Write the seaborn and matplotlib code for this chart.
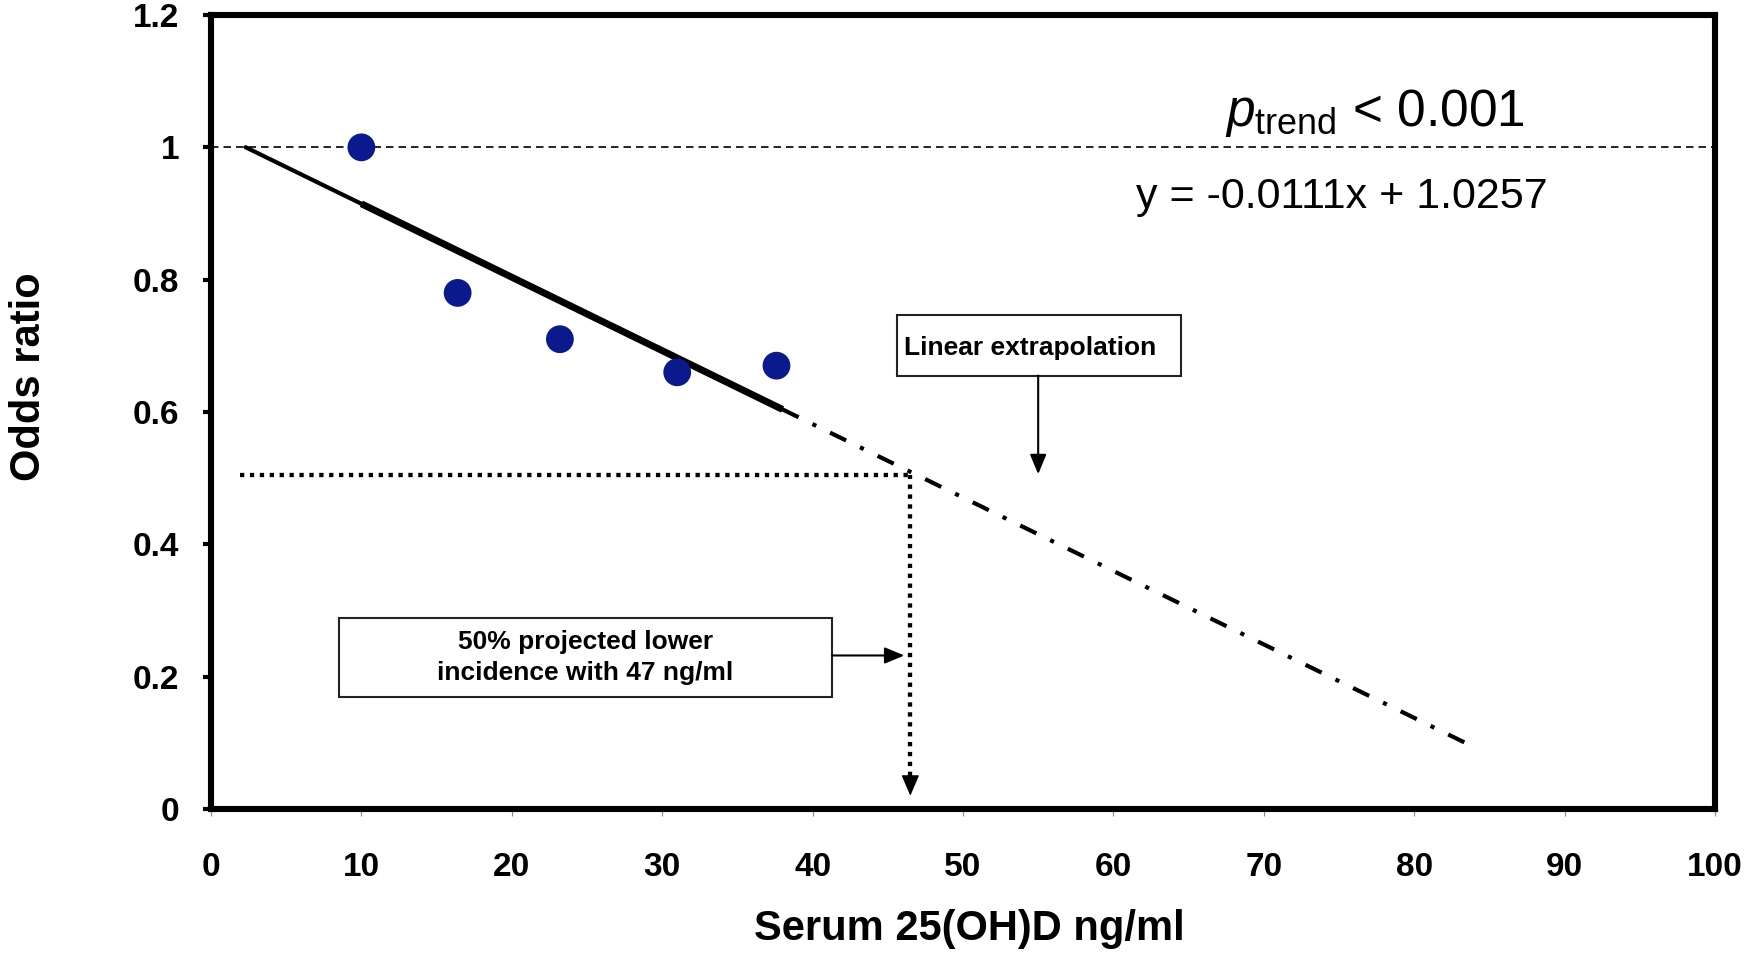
import numpy as np
import pandas as pd
import matplotlib
matplotlib.use("Agg")
import matplotlib.pyplot as plt
from matplotlib.patches import Rectangle
import seaborn as sns

# ---------------- data ----------------
serum = [10.0, 16.4, 23.2, 31.0, 37.6]          # ng/ml (quintile medians)
odds = [1.0, 0.78, 0.71, 0.66, 0.67]            # odds ratios
slope = -0.0111
intercept = 1.0257
fit_range = [2.3, 38.0]        # thin fitted line
fit_thick_range = [10.0, 38.0] # thick fitted segment (observed range)
extrap_range = [38.0, 83.6]    # linear extrapolation
target_or = 0.505
target_serum = 46.5
x_ticks = [0, 10, 20, 30, 40, 50, 60, 70, 80, 90, 100]
y_ticks = [0, 0.2, 0.4, 0.6, 0.8, 1.0, 1.2]
y_tick_labels = ["0", "0.2", "0.4", "0.6", "0.8", "1", "1.2"]

# ---------------- style ----------------
sns.set_theme(style="white")
plt.rcParams["font.family"] = ["Liberation Sans", "DejaVu Sans"]
plt.rcParams["mathtext.fontset"] = "custom"
plt.rcParams["mathtext.rm"] = "Liberation Sans"
plt.rcParams["mathtext.it"] = "Liberation Sans:italic"
plt.rcParams["mathtext.bf"] = "Liberation Sans:bold"
for key in ["text.color", "axes.labelcolor", "xtick.labelcolor",
            "ytick.labelcolor"]:
    plt.rcParams[key] = "black"

fig = plt.figure(figsize=(17.45, 9.56), dpi=100)
ax = fig.add_axes([0.1209, 0.1538, 0.8619, 0.8305])

# reference line at OR = 1
ref = pd.DataFrame({"x": [x_ticks[0], x_ticks[-1]], "y": [1.0, 1.0]})
sns.lineplot(data=ref, x="x", y="y", ax=ax, color="black", lw=1.2,
             linestyle=(0, (4.5, 3)), zorder=1)

# fitted line (thin then thick)
fx = np.array(fit_range)
sns.lineplot(x=fx, y=slope * fx + intercept, ax=ax, color="black", lw=3.0,
             zorder=2)
tx = np.array(fit_thick_range)
sns.lineplot(x=tx, y=slope * tx + intercept, ax=ax, color="black", lw=5.0,
             solid_capstyle="butt", zorder=2)

# extrapolation (dash-dot)
ex = np.array(extrap_range)
sns.lineplot(x=ex, y=slope * ex + intercept, ax=ax, color="black", lw=3.0,
             linestyle=(0, (4.3, 3.7, 1, 3.7)), zorder=2)

# dotted projection lines
dot_style = (0, (1, 1.3))
sns.lineplot(x=[1.9, target_serum], y=[target_or, target_or], ax=ax,
             color="black", lw=3.1, linestyle=dot_style, zorder=2)
sns.lineplot(x=[target_serum, target_serum], y=[0.05, target_or],
             orient="y", ax=ax, color="black", lw=3.1, linestyle=dot_style,
             zorder=2)
ax.annotate("", xy=(target_serum, 0.02), xytext=(target_serum, 0.05),
            arrowprops=dict(arrowstyle="-|>,head_length=0.65,head_width=0.28",
                            mutation_scale=20, color="black", lw=1,
                            shrinkA=0, shrinkB=0), zorder=3)

# data points
sns.scatterplot(x=serum, y=odds, ax=ax, color="#0a1a8c", s=400,
                edgecolor="none", zorder=4)

# annotation boxes
ax.add_patch(Rectangle((45.6, 0.655), 64.5 - 45.6, 0.747 - 0.655,
                       facecolor="white", edgecolor="#222222", lw=1.5,
                       zorder=5))
ax.text(46.1, 0.697, "Linear extrapolation", fontsize=19, fontweight="bold",
        ha="left", va="center", zorder=6)
ax.annotate("", xy=(55.0, 0.506), xytext=(55.0, 0.655),
            arrowprops=dict(arrowstyle="-|>,head_length=0.6,head_width=0.25",
                            mutation_scale=20, color="black", lw=1.5,
                            shrinkA=0, shrinkB=0), zorder=5)

ax.add_patch(Rectangle((8.5, 0.169), 41.3 - 8.5, 0.288 - 0.169,
                       facecolor="white", edgecolor="#222222", lw=1.5,
                       zorder=5))
ax.text(24.9, 0.2285, "50% projected lower\nincidence with 47 ng/ml",
        fontsize=19, fontweight="bold", ha="center", va="center",
        linespacing=1.35, zorder=6)
ax.annotate("", xy=(46.1, 0.232), xytext=(41.3, 0.232),
            arrowprops=dict(arrowstyle="-|>,head_length=0.6,head_width=0.25",
                            mutation_scale=20, color="black", lw=1.5,
                            shrinkA=0, shrinkB=0), zorder=5)

# statistics text
ax.text(67.4, 1.0325, r"$p_{\mathrm{trend}}$ < 0.001", fontsize=37,
        ha="left", va="baseline", color="black")
ax.text(61.5, 0.909, "y = -0.0111x + 1.0257", fontsize=31,
        ha="left", va="baseline", color="black")

# axes
ax.set_xlim(x_ticks[0], x_ticks[-1])
ax.set_ylim(y_ticks[0], y_ticks[-1])
ax.set_xticks(x_ticks, [str(t) for t in x_ticks], fontweight="bold",
              fontsize=24, color="black")
ax.set_yticks(y_ticks, y_tick_labels, fontweight="bold", fontsize=24,
              color="black")
ax.tick_params(axis="y", left=True, direction="out", length=6, width=3,
               color="black", pad=17)
ax.tick_params(axis="x", bottom=True, direction="out", length=5, width=0.8,
               color="#888888", pad=26)
for side in ["left", "right", "top", "bottom"]:
    ax.spines[side].set_visible(True)
    ax.spines[side].set_color("black")
    ax.spines[side].set_linewidth(4.4)

ax.set_xlabel("Serum 25(OH)D ng/ml", fontsize=30, fontweight="bold",
              color="black")
ax.set_ylabel("Odds ratio", fontsize=30, fontweight="bold", color="black")
ax.xaxis.label.set_verticalalignment("center")
ax.yaxis.label.set_verticalalignment("center")
ax.xaxis.set_label_coords(0.504, -0.151)
ax.yaxis.set_label_coords(-0.121, 0.545)

fig.savefig("out.png", dpi=100, facecolor="white")
